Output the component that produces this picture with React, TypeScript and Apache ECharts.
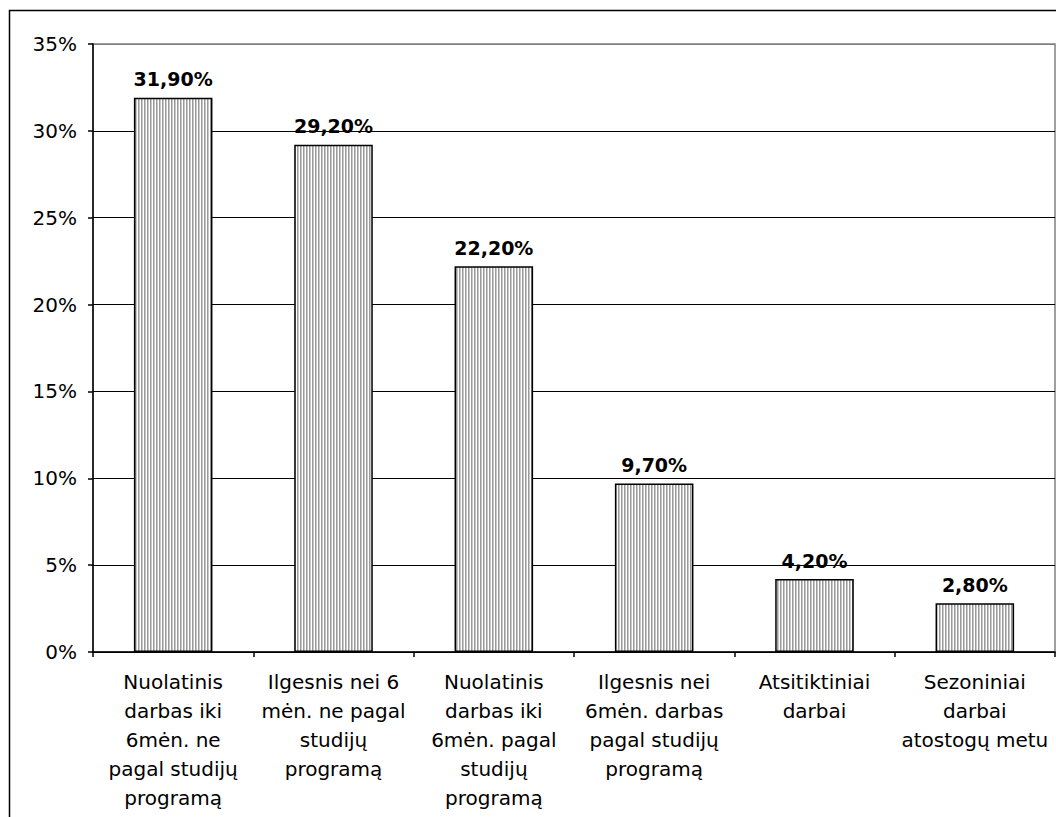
import React, { useEffect, useRef } from "react";
import * as echarts from "echarts";

const categories: string[] = [
  "Nuolatinis\ndarbas iki\n6mėn. ne\npagal studijų\nprogramą",
  "Ilgesnis nei 6\nmėn. ne pagal\nstudijų\nprogramą",
  "Nuolatinis\ndarbas iki\n6mėn. pagal\nstudijų\nprogramą",
  "Ilgesnis nei\n6mėn. darbas\npagal studijų\nprogramą",
  "Atsitiktiniai\ndarbai",
  "Sezoniniai\ndarbai\natostogų metu",
];
const values: number[] = [31.9, 29.2, 22.2, 9.7, 4.2, 2.8];
const valueLabels: string[] = ["31,90%", "29,20%", "22,20%", "9,70%", "4,20%", "2,80%"];
const yTicks = { min: 0, max: 35, interval: 5 };

const FONT = "DejaVu Sans";

const patternSvg =
  "<svg xmlns='http://www.w3.org/2000/svg' width='3' height='4'>" +
  "<rect width='3' height='4' fill='#ffffff'/>" +
  "<rect x='0' width='1' height='4' fill='#9a9a9a'/>" +
  "<rect x='1' width='1' height='4' fill='#c8c8c8'/>" +
  "</svg>";
const patternUrl = "data:image/svg+xml;charset=utf-8," + encodeURIComponent(patternSvg);

export default function App() {
  const ref = useRef<HTMLDivElement>(null);
  useEffect(() => {
    if (!ref.current) return;
    const chart = echarts.init(ref.current, null, { renderer: "svg" });
    const splitColors = ["#000", "#000", "#000", "#000", "#000", "#000", "#000", "#808080"];
    chart.setOption({
      animation: false,
      backgroundColor: "#ffffff",
      textStyle: { fontFamily: FONT },
      grid: {
        left: 93,
        top: 44,
        right: 1,
        bottom: 165,
        show: true,
        borderColor: "#808080",
        borderWidth: 1.5,
        containLabel: false,
      },
      graphic: [
        {
          type: "rect",
          shape: { x: 9.5, y: 10.5, width: 1200, height: 1000 },
          style: { fill: "none", stroke: "#000", lineWidth: 1.5 },
          z: 100,
          silent: true,
        },
      ],
      xAxis: {
        type: "category",
        data: categories,
        axisLine: { show: true, lineStyle: { color: "#000", width: 1.5 } },
        axisTick: { show: true, alignWithLabel: false, length: 5, lineStyle: { color: "#000", width: 1.5 } },
        axisLabel: {
          interval: 0,
          color: "#000",
          fontFamily: FONT,
          fontSize: 20,
          lineHeight: 29,
          margin: 15,
          align: "center",
        },
        splitLine: { show: false },
      },
      yAxis: {
        type: "value",
        min: yTicks.min,
        max: yTicks.max,
        interval: yTicks.interval,
        axisLine: { show: true, lineStyle: { color: "#000", width: 1.5 } },
        axisTick: { show: true, length: 5, lineStyle: { color: "#000", width: 1.5 } },
        axisLabel: {
          color: "#000",
          fontFamily: FONT,
          fontSize: 20,
          margin: 16,
          formatter: (v: number) => `${Math.round(v)}%`,
        },
        splitLine: { show: true, lineStyle: { color: splitColors, width: 1 } },
      },
      series: [
        {
          type: "bar",
          data: values,
          barWidth: "49%",
          itemStyle: {
            color: { image: patternUrl, repeat: "repeat", imageWidth: 3, imageHeight: 4 } as any,
            borderColor: "#000",
            borderWidth: 1.5,
          },
          label: {
            show: true,
            position: "top",
            distance: 9,
            color: "#000",
            fontFamily: FONT,
            fontWeight: "bold",
            fontSize: 19,
            formatter: (p: any) => valueLabels[p.dataIndex],
          },
        },
      ],
    });
    return () => chart.dispose();
  }, []);
  return (
    <div
      ref={ref}
      style={{ position: "fixed", left: 0, top: 0, width: 1056, height: 817, background: "#fff" }}
    />
  );
}
